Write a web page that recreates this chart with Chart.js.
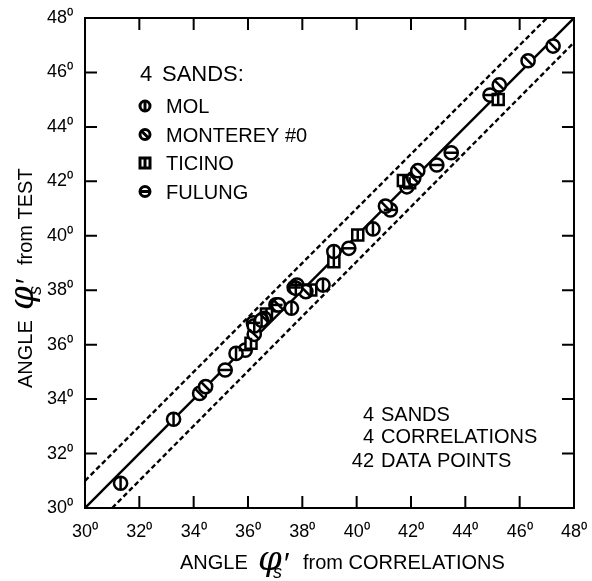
<!DOCTYPE html>
<html>
<head>
<meta charset="utf-8">
<script src="https://cdn.jsdelivr.net/npm/chart.js@4.4.1/dist/chart.umd.min.js"></script>
<style>
  html, body { margin: 0; padding: 0; background: #fff; }
  #wrap { width: 592px; height: 581px; }
</style>
</head>
<body>
<div id="wrap"><canvas id="chart"></canvas></div>
<script>
// axis range and ticks (degrees)
const axisMin = 30;
const axisMax = 48;
const tickStep = 2;

// measured points [from correlations, from test]
const molPoints = [
  [31.31, 30.91], [33.26, 33.26], [35.56, 35.68], [36.23, 36.69], [37.60, 37.34],
  [37.76, 38.07], [38.76, 38.19], [39.16, 39.42], [40.60, 40.25], [36.50, 36.90]
];
const montereyPoints = [
  [34.22, 34.21], [34.44, 34.46], [36.23, 36.38], [36.60, 36.97], [37.12, 37.46],
  [38.13, 37.95], [41.06, 41.09], [42.10, 42.11], [42.25, 42.39], [45.25, 45.54],
  [46.31, 46.43], [47.23, 46.97]
];
const ticinoPoints = [
  [36.11, 36.05], [36.68, 37.13], [38.31, 38.01], [39.16, 39.05], [40.04, 40.03],
  [41.72, 42.03], [45.21, 45.01], [41.95, 41.95]
];
const fulungPoints = [
  [35.16, 35.07], [35.90, 35.80], [36.20, 36.80], [37.03, 37.46], [37.80, 38.19],
  [39.71, 39.54], [41.24, 40.95], [41.85, 41.80], [42.95, 42.60], [43.48, 43.05],
  [44.91, 45.17], [37.70, 38.10]
];

// reference lines
const equalityLine = [[30, 30], [48, 48]];
const upperBound = [[30, 31], [47, 48]];
const lowerBound = [[31, 30], [48, 47.1]];

const sandNames = ['MOL', 'MONTEREY #0', 'TICINO', 'FULUNG'];
const noteLines = [['4', 'SANDS'], ['4', 'CORRELATIONS'], ['42', 'DATA POINTS']];

const textFont = "'Liberation Sans', Arial, sans-serif";

// marker look per sand: outline shape + angle of the inner bar
const shapes = ['circle', 'circle', 'rect', 'circle'];
const barAngles = [90, 45, 90, 0];

const toXY = arr => arr.map(p => ({ x: p[0], y: p[1] }));

function shapeSet(label, pts, shape) {
  return {
    label: label, data: toXY(pts), showLine: false, order: 0,
    pointStyle: shape, pointRadius: shape === 'rect' ? 7.8 : 6.6,
    pointBackgroundColor: '#fff', pointBorderColor: '#000', pointBorderWidth: 2.5
  };
}
function barSet(pts, angle, shape) {
  return {
    data: toXY(pts), showLine: false, order: -1,
    pointStyle: 'line', pointRotation: angle, pointRadius: shape === 'rect' ? 5.5 : 6.6,
    pointBorderColor: '#000', pointBorderWidth: 2.5
  };
}
function lineSet(pts, dash) {
  return {
    data: toXY(pts), showLine: true, pointRadius: 0, borderColor: '#000',
    borderWidth: 2.4, borderDash: dash, order: 1, fill: false
  };
}

function drawLegendMarker(ctx, i, x, y) {
  ctx.save();
  ctx.lineWidth = 3;
  ctx.strokeStyle = '#000';
  ctx.fillStyle = '#fff';
  const r = 5;
  ctx.beginPath();
  if (shapes[i] === 'rect') ctx.rect(x - r, y - r, 2 * r, 2 * r);
  else ctx.arc(x, y, r, 0, Math.PI * 2);
  ctx.fill(); ctx.stroke();
  const a = barAngles[i] * Math.PI / 180;
  ctx.beginPath();
  ctx.moveTo(x - Math.cos(a) * r, y - Math.sin(a) * r);
  ctx.lineTo(x + Math.cos(a) * r, y + Math.sin(a) * r);
  ctx.stroke();
  ctx.restore();
}

function phiTitle(ctx, x, y, rest) {
  ctx.fillStyle = '#000';
  ctx.textBaseline = 'alphabetic';
  ctx.textAlign = 'left';
  ctx.font = '20px ' + textFont;
  ctx.fillText('ANGLE', x, y);
  ctx.font = "italic 34px 'DejaVu Serif', 'Liberation Serif', serif";
  ctx.fillText('\u03C6', x + 78, y + 1);
  ctx.font = "italic 18px " + textFont;
  ctx.fillText('s', x + 93, y + 9);
  ctx.font = "30px " + textFont;
  ctx.fillText('\u2032', x + 104, y + 4);
  ctx.font = '20px ' + textFont;
  ctx.fillText(rest, x + 123, y);
}

const framePlugin = {
  id: 'frame',
  beforeDatasetsDraw(chart) {
    const { ctx, chartArea: a, scales } = chart;
    ctx.save();
    ctx.strokeStyle = '#000';
    ctx.lineWidth = 2;
    ctx.strokeRect(a.left, a.top, a.right - a.left, a.bottom - a.top);
    const tl = 12;
    ctx.beginPath();
    for (let v = axisMin + tickStep; v < axisMax; v += tickStep) {
      const px = scales.x.getPixelForValue(v);
      const py = scales.y.getPixelForValue(v);
      ctx.moveTo(px, a.bottom); ctx.lineTo(px, a.bottom - tl);
      ctx.moveTo(px, a.top); ctx.lineTo(px, a.top + tl);
      ctx.moveTo(a.left, py); ctx.lineTo(a.left + tl, py);
      ctx.moveTo(a.right, py); ctx.lineTo(a.right - tl, py);
    }
    ctx.stroke();
    ctx.restore();
  },
  afterDraw(chart) {
    const ctx = chart.ctx;
    ctx.save();
    ctx.fillStyle = '#000';
    ctx.textBaseline = 'alphabetic';
    // legend block
    ctx.font = '22px ' + textFont;
    ctx.fillText('4', 140, 81);
    ctx.fillText('SANDS:', 162, 81);
    ctx.font = '20px ' + textFont;
    const rows = [113, 141.5, 170, 198.5];
    sandNames.forEach((name, i) => {
      drawLegendMarker(ctx, i, 145, rows[i] - 7);
      ctx.fillText(name, 166, rows[i]);
    });
    // note block
    const base = [420.7, 443.3, 466.7];
    noteLines.forEach((ln, i) => {
      ctx.textAlign = 'right';
      ctx.fillText(ln[0], 374, base[i]);
      ctx.textAlign = 'left';
      ctx.fillText(ln[1], 381, base[i]);
    });
    // axis titles
    phiTitle(ctx, 180, 569, 'from CORRELATIONS');
    ctx.translate(32, 388);
    ctx.rotate(-Math.PI / 2);
    phiTitle(ctx, 0, 0, 'from TEST');
    ctx.restore();
  }
};

const axisCommon = {
  type: 'linear', min: axisMin, max: axisMax,
  grid: { display: false }, border: { display: false },
  ticks: {
    stepSize: tickStep, color: '#000',
    font: { family: textFont, size: 18 },
    callback: v => v + '\u2070'
  }
};

const allPoints = [molPoints, montereyPoints, ticinoPoints, fulungPoints];
const datasets = [];
allPoints.forEach((pts, i) => {
  datasets.push(shapeSet(sandNames[i], pts, shapes[i]));
  datasets.push(barSet(pts, barAngles[i], shapes[i]));
});
datasets.push(lineSet(equalityLine, []));
datasets.push(lineSet(upperBound, [5, 3]));
datasets.push(lineSet(lowerBound, [5, 3]));

new Chart(document.getElementById('chart'), {
  type: 'scatter',
  data: { datasets: datasets },
  options: {
    responsive: true, maintainAspectRatio: false, animation: false,
    layout: { padding: { left: 0, top: 18, right: 16, bottom: 0 } },
    plugins: { legend: { display: false }, tooltip: { enabled: false } },
    scales: {
      x: Object.assign({}, axisCommon, {
        ticks: Object.assign({}, axisCommon.ticks, { padding: 5, maxRotation: 0 }),
        afterFit: s => { s.height = 73; }
      }),
      y: Object.assign({}, axisCommon, {
        ticks: Object.assign({}, axisCommon.ticks, { padding: 4 }),
        afterFit: s => { s.width = 85; }
      })
    }
  },
  plugins: [framePlugin]
});
</script>
</body>
</html>
